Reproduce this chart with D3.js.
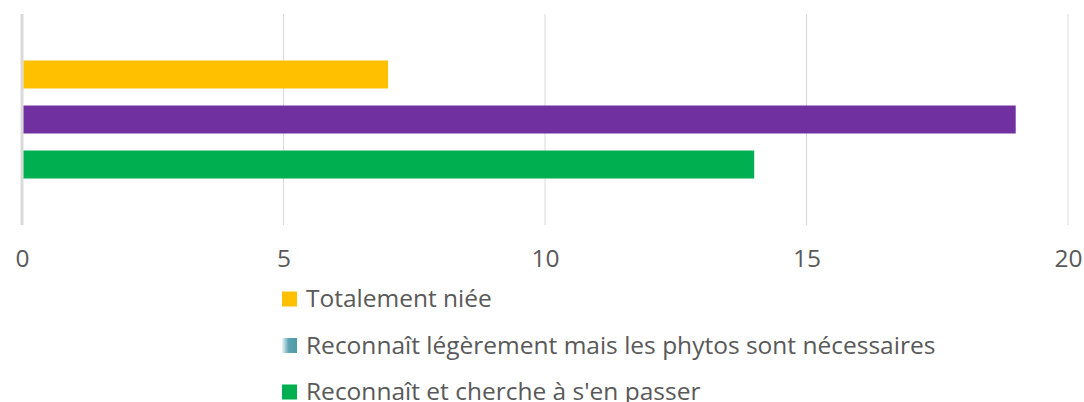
<!DOCTYPE html>
<html>
<head>
<meta charset="utf-8">
<script src="https://cdn.jsdelivr.net/npm/d3@7"></script>
<style>
  body { margin: 0; background: #fff; }
  svg text { font-family: "Open Sans", sans-serif; fill: #595959; }
</style>
</head>
<body>
<div class="chart"></div>
<script>
// data
const seriesNames = [
  "Totalement niée",
  "Reconnaît légèrement mais les phytos sont nécessaires",
  "Reconnaît et cherche à s'en passer"
];
const seriesValues = [7, 19, 14];
const seriesColors = ["#FFC000", "#7030A0", "#00B050"];
const xTicks = [0, 5, 10, 15, 20];

const width = 1084, height = 402;
const svg = d3.select("div.chart").append("svg")
    .attr("width", width)
    .attr("height", height);

const x = d3.scaleLinear().domain([0, 20]).range([22, 1068]);
const y = d3.scaleBand().domain(seriesNames).range([14, 225])
    .paddingInner(0.378).paddingOuter(1.033);

// gridlines
svg.append("g")
  .selectAll("line")
  .data(xTicks)
  .join("line")
    .attr("x1", d => x(d)).attr("x2", d => x(d))
    .attr("y1", 14).attr("y2", 225)
    .attr("stroke", "#d9d9d9")
    .attr("stroke-width", d => d === 0 ? 3 : 1);

// bars
svg.append("g")
  .selectAll("rect")
  .data(seriesValues)
  .join("rect")
    .attr("x", x(0) + 1.5)
    .attr("y", (d, i) => y(seriesNames[i]))
    .attr("width", d => x(d) - x(0) - 1.5)
    .attr("height", y.bandwidth())
    .attr("fill", (d, i) => seriesColors[i]);

// x axis labels
const axis = svg.append("g")
    .attr("transform", "translate(0,250)")
    .call(d3.axisBottom(x).tickValues(xTicks).tickSize(0).tickPadding(0));
axis.select(".domain").remove();
axis.selectAll("text")
    .attr("dy", "0.71em")
    .style("font-size", "24.5px")
    .attr("fill", "#595959");

// legend
const defs = svg.append("defs");
const grad = defs.append("linearGradient").attr("id", "legGrad");
grad.append("stop").attr("offset", "0%").attr("stop-color", "#eef5f7");
grad.append("stop").attr("offset", "45%").attr("stop-color", "#5ba3b0");
grad.append("stop").attr("offset", "100%").attr("stop-color", "#4f9aa8");

const legend = svg.append("g")
  .selectAll("g")
  .data(seriesNames)
  .join("g")
    .attr("transform", (d, i) => `translate(282,${299 + i * 46.5})`);

legend.append("rect")
    .attr("x", 0).attr("y", -7.5)
    .attr("width", 15).attr("height", 15)
    .attr("fill", (d, i) => i === 1 ? "url(#legGrad)" : seriesColors[i]);

legend.append("text")
    .attr("x", 24)
    .attr("y", 8)
    .style("font-size", "24.5px")
    .text(d => d);
</script>
</body>
</html>
